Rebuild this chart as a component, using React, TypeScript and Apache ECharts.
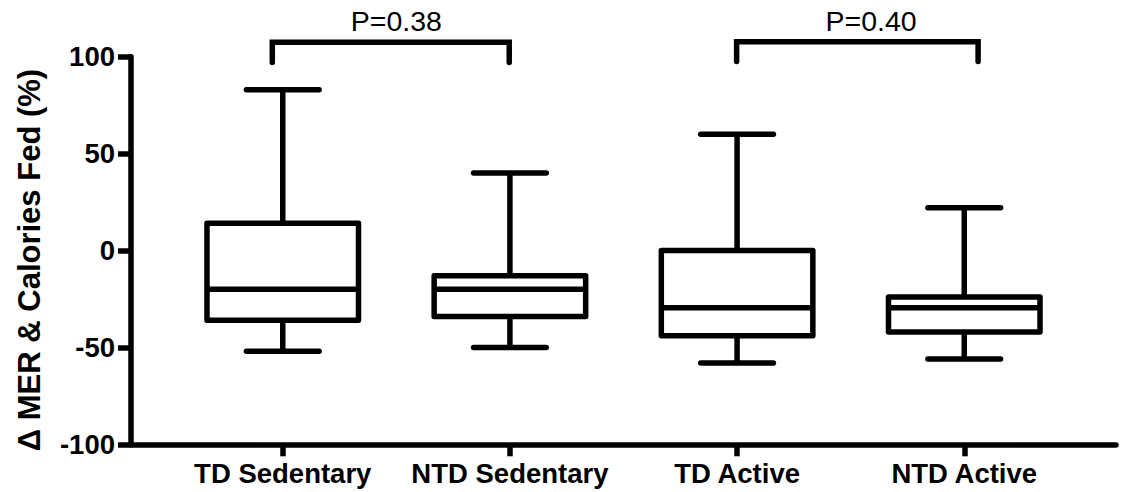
import React, { useEffect, useRef } from "react";
import * as echarts from "echarts";

const categories = ["TD Sedentary", "NTD Sedentary", "TD Active", "NTD Active"];
const positions = [1, 2, 3, 4];
const mins = [-52, -50, -58, -56];
const q1s = [-36, -34, -44, -42];
const medians = [-20, -20, -29.5, -29.5];
const q3s = [14, -13, 0, -24];
const maxs = [83, 40, 60, 22];
const yTicks = [-100, -50, 0, 50, 100];

const bracket1 = [[0.954, 97], [0.954, 107.5], [1.997, 107.5], [1.997, 97]];
const bracket2 = [[2.998, 97.5], [2.998, 107.7], [4.061, 107.7], [4.061, 97.5]];
const pLabels = ["P=0.38", "P=0.40"];
const pLabelPos = [[1.5, 118.4], [3.59, 118.4]];

const FONT = "'Liberation Sans', Arial, Helvetica, sans-serif";

export default function App() {
  const ref = useRef<HTMLDivElement>(null);
  useEffect(() => {
    if (!ref.current) return;
    const chart = echarts.init(ref.current, undefined, { renderer: "svg" });
    const boxData = positions.map((p, i) => [p, mins[i], q1s[i], medians[i], q3s[i], maxs[i]]);
    const option: any = {
      animation: false,
      backgroundColor: "#fff",
      grid: { left: 131, right: 5, top: 56.7, bottom: 47.7 },
      xAxis: {
        type: "value",
        min: 0.332,
        max: 4.668,
        splitLine: { show: false },
        axisLine: { show: true, onZero: false, lineStyle: { color: "#000", width: 5.5 } },
        axisTick: {
          show: true,
          customValues: positions,
          length: 12,
          lineStyle: { color: "#000", width: 5.5 },
        },
        axisLabel: {
          customValues: positions,
          formatter: (v: number) => categories[Math.round(v) - 1] || "",
          color: "#000",
          fontWeight: "bold",
          fontSize: 27.5,
          fontFamily: FONT,
          margin: 15,
        },
      },
      yAxis: {
        type: "value",
        min: yTicks[0],
        max: yTicks[yTicks.length - 1],
        interval: 50,
        splitLine: { show: false },
        axisLine: { show: true, lineStyle: { color: "#000", width: 5.5 } },
        axisTick: { show: true, length: 13, lineStyle: { color: "#000", width: 5.5 } },
        axisLabel: {
          color: "#000",
          fontWeight: "bold",
          fontSize: 27.5,
          fontFamily: FONT,
          margin: 16,
        },
        name: "Δ MER & Calories Fed (%)",
        nameLocation: "middle",
        nameGap: 86,
        nameTextStyle: {
          color: "#000",
          fontWeight: "bold",
          fontSize: 31,
          fontFamily: FONT,
          padding: [0, 19, 0, 0],
        },
      },
      series: [
        {
          type: "custom",
          data: boxData,
          clip: false,
          renderItem: (params: any, api: any) => {
            const x = api.value(0);
            const pMin = api.coord([x, api.value(1)]);
            const pQ1 = api.coord([x, api.value(2)]);
            const pMed = api.coord([x, api.value(3)]);
            const pQ3 = api.coord([x, api.value(4)]);
            const pMax = api.coord([x, api.value(5)]);
            const halfBox = api.size([0.667, 0])[0] / 2;
            const halfCap = api.size([0.32, 0])[0] / 2;
            const cx = pMed[0];
            const ls = { stroke: "#000", lineWidth: 5.5, lineCap: "round", fill: null };
            return {
              type: "group",
              children: [
                { type: "line", shape: { x1: cx, y1: pMax[1], x2: cx, y2: pQ3[1] }, style: { ...ls, lineCap: "butt" } },
                { type: "line", shape: { x1: cx, y1: pQ1[1], x2: cx, y2: pMin[1] }, style: { ...ls, lineCap: "butt" } },
                { type: "line", shape: { x1: cx - halfCap, y1: pMax[1], x2: cx + halfCap, y2: pMax[1] }, style: ls },
                { type: "line", shape: { x1: cx - halfCap, y1: pMin[1], x2: cx + halfCap, y2: pMin[1] }, style: ls },
                {
                  type: "rect",
                  shape: { x: cx - halfBox, y: pQ3[1], width: halfBox * 2, height: pQ1[1] - pQ3[1] },
                  style: { stroke: "#000", lineWidth: 5.5, fill: "#fff", lineJoin: "round" },
                },
                { type: "line", shape: { x1: cx - halfBox, y1: pMed[1], x2: cx + halfBox, y2: pMed[1] }, style: { ...ls, lineCap: "butt" } },
              ],
            };
          },
        },
        {
          type: "line",
          data: bracket1,
          clip: false,
          symbol: "none",
          lineStyle: { color: "#000", width: 5.5, cap: "round", join: "miter" },
        },
        {
          type: "line",
          data: bracket2,
          clip: false,
          symbol: "none",
          lineStyle: { color: "#000", width: 5.5, cap: "round", join: "miter" },
        },
        {
          type: "scatter",
          data: pLabelPos,
          clip: false,
          symbolSize: 0,
          itemStyle: { color: "#000", opacity: 1 },
          label: {
            show: true,
            position: "inside",
            formatter: (p: any) => pLabels[p.dataIndex],
            color: "#000",
            opacity: 1,
            textBorderWidth: 0,
            fontSize: 28.5,
            fontFamily: FONT,
          },
        },
      ],
    };
    chart.setOption(option);
    return () => chart.dispose();
  }, []);
  return (
    <div
      ref={ref}
      style={{ position: "fixed", left: 0, top: 0, width: 1121, height: 492, background: "#fff" }}
    />
  );
}
